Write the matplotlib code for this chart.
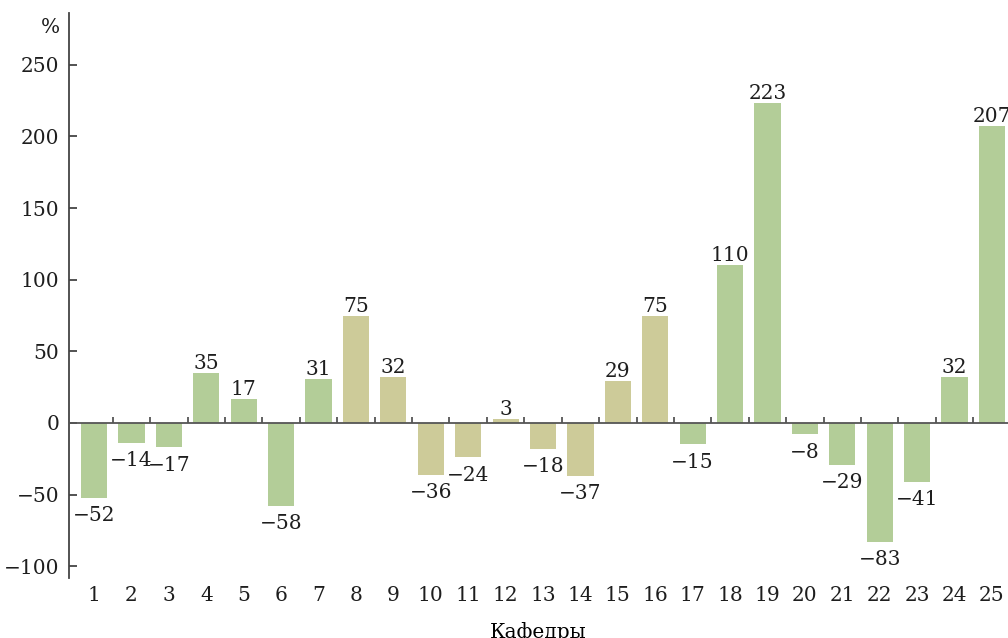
import matplotlib
matplotlib.use("Agg")
import matplotlib.pyplot as plt

# данные по кафедрам
kafedry = list(range(1, 26))
izmenenie = [-52, -14, -17, 35, 17, -58, 31, 75, 32, -36, -24, 3, -18, -37,
             29, 75, -15, 110, 223, -8, -29, -83, -41, 32, 207]
gruppa = ['g'] * 7 + ['o'] * 9 + ['g'] * 9   # кафедры 8-16 другим цветом

cvet = {'g': '#b3cd98', 'o': '#cdcb99'}

plt.rcParams['font.family'] = ['DejaVu Serif']
plt.rcParams['font.size'] = 14.5
plt.rcParams['text.color'] = '#1e1e1e'
plt.rcParams['ytick.color'] = '#1e1e1e'
plt.rcParams['xtick.color'] = '#1e1e1e'

fig = plt.figure(figsize=(10.08, 6.38), dpi=100)
ax = fig.add_axes([0.0685, 0.094, 0.9315, 0.886])

ax.bar(kafedry, izmenenie, width=0.7, color=[cvet[g] for g in gruppa], zorder=2)

for k, v in zip(kafedry, izmenenie):
    txt = str(v).replace('-', '\u2212')
    if v >= 0:
        ax.annotate(txt, (k, v), xytext=(0, 0), textcoords='offset points',
                    ha='center', va='bottom')
    else:
        ax.annotate(txt, (k, v), xytext=(0, -6), textcoords='offset points',
                    ha='center', va='top')

ax.set_xlim(0.33, 25.43)
ax.set_ylim(-108.2, 286.3)

# ось на нуле с засечками между кафедрами
ax.axhline(0, color='#555555', lw=1.3, zorder=3)
granicy = [k + 0.5 for k in kafedry[:-1]]
ax.vlines(granicy, 0, 4.5, color='#555555', lw=1.3, zorder=3)

for s in ['top', 'right', 'bottom']:
    ax.spines[s].set_visible(False)
ax.spines['left'].set_color('#444444')
ax.spines['left'].set_linewidth(1.3)

ax.set_yticks([-100, -50, 0, 50, 100, 150, 200, 250])
ax.set_yticklabels([str(t).replace('-', '\u2212') for t in [-100, -50, 0, 50, 100, 150, 200, 250]])
ax.tick_params(axis='y', direction='in', length=6, width=1.3, color='#444444', pad=7)
ax.set_xticks(kafedry)
ax.tick_params(axis='x', length=0, pad=6)

ax.text(0.1, 276, '%', ha='right', va='center')
ax.set_xlabel('Кафедры', labelpad=12)

fig.savefig('out.png', dpi=100)
